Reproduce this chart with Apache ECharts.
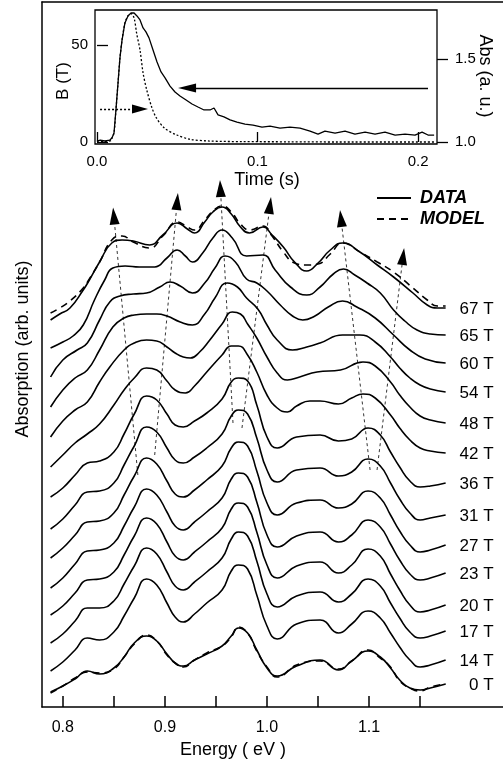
<!DOCTYPE html>
<html>
<head>
<meta charset="utf-8">
<script src="https://cdn.jsdelivr.net/npm/echarts@6/dist/echarts.min.js"></script>
<style>
  html, body { margin: 0; padding: 0; background: #fff; }
  #chart { width: 503px; height: 765px; }
</style>
</head>
<body>
<div id="chart"></div>
<script>
  // ---- main panel: absorption spectra, offset per field ----
  // energy grid (eV) used by 0 T .. 36 T
  var energyLow = [0.788, 0.800, 0.812, 0.824, 0.836, 0.850, 0.860, 0.870, 0.882, 0.892, 0.902, 0.910, 0.918, 0.929, 0.941, 0.956, 0.965, 0.972, 0.981, 0.990, 1.000, 1.010, 1.029, 1.052, 1.070, 1.083, 1.099, 1.111, 1.121, 1.130, 1.140, 1.150, 1.160, 1.175];

  var abs0T    = [15, 21, 28, 36, 33, 39, 50, 64, 71, 66, 53, 44, 41, 47, 53, 61, 71, 79, 74, 57, 39, 31, 41, 47, 37, 46, 56, 50, 39, 27, 19, 17, 19, 23];
  var model0T  = [14, 21, 29, 35, 34, 38, 50, 63, 72, 66, 52, 44, 40, 47, 54, 61, 70, 80, 74, 56, 40, 30, 42, 46, 38, 46, 57, 49, 40, 26, 19, 16, 20, 23];
  var abs14T   = [36, 45, 57, 69, 67, 75, 91, 109, 128, 122, 104, 90, 85, 93, 104, 117, 136, 142, 138, 112, 81, 68, 83, 87, 74, 83, 96, 89, 74, 60, 47, 40, 42, 47];
  var abs17T   = [64, 73, 86, 99, 99, 106, 123, 141, 159, 153, 135, 121, 117, 125, 135, 149, 168, 175, 171, 146, 113, 100, 111, 115, 105, 113, 128, 121, 104, 89, 75, 69, 71, 76];
  var abs20T   = [92, 101, 114, 127, 128, 135, 152, 171, 189, 183, 165, 151, 147, 155, 165, 179, 198, 204, 200, 175, 142, 129, 141, 145, 134, 142, 158, 151, 133, 117, 102, 95, 97, 102];
  var abs23T   = [119, 129, 143, 156, 157, 164, 181, 200, 218, 212, 195, 181, 177, 185, 195, 209, 228, 234, 230, 205, 172, 160, 171, 175, 165, 172, 187, 180, 163, 147, 133, 127, 129, 134];
  var abs27T   = [149, 159, 172, 185, 186, 194, 212, 231, 249, 243, 226, 213, 210, 217, 227, 241, 259, 265, 261, 236, 204, 192, 204, 207, 199, 203, 216, 209, 192, 176, 162, 155, 157, 162];
  var abs31T   = [178, 188, 202, 215, 216, 224, 242, 261, 280, 275, 259, 247, 244, 250, 259, 273, 291, 297, 293, 269, 237, 225, 237, 239, 231, 235, 248, 241, 224, 208, 194, 187, 189, 192];
  var abs36T   = [210, 219, 232, 244, 246, 255, 273, 293, 311, 307, 293, 282, 280, 286, 294, 308, 325, 329, 326, 302, 270, 259, 270, 272, 266, 268, 279, 272, 255, 240, 226, 220, 221, 224];

  var energy42 = [0.788, 0.800, 0.812, 0.824, 0.836, 0.850, 0.860, 0.870, 0.882, 0.892, 0.902, 0.910, 0.920, 0.929, 0.941, 0.956, 0.965, 0.972, 0.981, 0.990, 1.000, 1.010, 1.020, 1.029, 1.042, 1.052, 1.070, 1.083, 1.094, 1.106, 1.121, 1.130, 1.140, 1.150, 1.160, 1.175];
  var abs42T   = [240, 252, 264, 273, 283, 302, 317, 329, 339, 337, 326, 317, 314, 321, 335, 352, 361, 361, 352, 335, 312, 299, 295, 301, 306, 306, 303, 309, 313, 309, 292, 279, 267, 259, 256, 254];

  var energy48 = [0.788, 0.800, 0.812, 0.824, 0.836, 0.846, 0.860, 0.870, 0.882, 0.892, 0.902, 0.910, 0.918, 0.925, 0.934, 0.944, 0.956, 0.966, 0.974, 0.981, 0.990, 1.000, 1.010, 1.020, 1.032, 1.049, 1.072, 1.094, 1.106, 1.121, 1.130, 1.140, 1.150, 1.160, 1.175];
  var abs48T   = [270, 286, 297, 305, 325, 340, 357, 364, 367, 366, 360, 354, 350, 349, 355, 367, 383, 395, 393, 383, 369, 350, 334, 327, 330, 335, 337, 345, 341, 325, 312, 300, 291, 287, 284];

  var energy54 = [0.788, 0.800, 0.812, 0.824, 0.836, 0.849, 0.860, 0.870, 0.882, 0.892, 0.902, 0.915, 0.927, 0.939, 0.949, 0.961, 0.971, 0.980, 0.991, 1.000, 1.010, 1.025, 1.039, 1.052, 1.074, 1.091, 1.106, 1.121, 1.130, 1.140, 1.150, 1.160, 1.175];
  var abs54T   = [300, 317, 329, 337, 357, 380, 389, 392, 393, 393, 391, 385, 382, 393, 409, 424, 420, 409, 398, 382, 367, 357, 360, 364, 372, 372, 365, 350, 339, 329, 322, 318, 315];

  var energy60 = [0.788, 0.800, 0.814, 0.824, 0.836, 0.846, 0.856, 0.869, 0.882, 0.895, 0.905, 0.915, 0.927, 0.939, 0.949, 0.959, 0.969, 0.980, 0.990, 1.000, 1.013, 1.025, 1.035, 1.047, 1.060, 1.074, 1.088, 1.106, 1.124, 1.140, 1.155, 1.175];
  var abs60T   = [330, 347, 357, 364, 387, 405, 411, 413, 414, 420, 425, 421, 414, 424, 439, 451, 445, 428, 424, 416, 402, 391, 387, 391, 400, 406, 400, 389, 372, 357, 348, 344];

  var energy65 = [0.788, 0.800, 0.810, 0.820, 0.831, 0.841, 0.849, 0.861, 0.875, 0.890, 0.902, 0.912, 0.920, 0.927, 0.937, 0.947, 0.956, 0.966, 0.980, 0.996, 1.008, 1.023, 1.039, 1.052, 1.065, 1.075, 1.086, 1.098, 1.111, 1.124, 1.135, 1.147, 1.160, 1.175];
  var abs65T   = [359, 365, 371, 382, 407, 427, 439, 441, 440, 440, 449, 457, 451, 445, 454, 469, 477, 469, 451, 452, 437, 420, 412, 420, 433, 438, 432, 424, 414, 397, 386, 377, 373, 372];

  var energy67 = [0.788, 0.797, 0.807, 0.820, 0.826, 0.836, 0.848, 0.858, 0.869, 0.885, 0.898, 0.912, 0.922, 0.929, 0.939, 0.947, 0.956, 0.965, 0.974, 0.983, 0.996, 1.005, 1.016, 1.027, 1.039, 1.050, 1.062, 1.074, 1.091, 1.108, 1.124, 1.143, 1.157, 1.167, 1.175];
  var abs67T   = [387, 393, 399, 417, 427, 445, 464, 467, 466, 462, 472, 484, 478, 474, 485, 495, 500, 493, 480, 474, 480, 472, 460, 445, 436, 444, 457, 464, 455, 442, 430, 414, 402, 399, 399];
  var model67T = [394, 399, 406, 419, 428, 445, 467, 471, 465, 459, 471, 485, 480, 477, 487, 496, 501, 495, 483, 477, 481, 471, 455, 444, 442, 443, 453, 464, 455, 445, 435, 419, 407, 401, 401];

  // dashed peak-tracking guides: [start, arrow end] as [energy, absorption]
  var guides = [
    [[0.8735, 232], [0.850, 491]],
    [[0.890, 252], [0.912, 505.5]],
    [[0.9667, 284], [0.9544, 518.5]],
    [[0.9755, 279], [1.0029, 501.5]],
    [[1.101, 237], [1.0725, 488.5]],
    [[1.1078, 237], [1.1333, 450.5]]
  ];

  // ---- inset: field pulse and absorption vs time ----
  var pulseTime  = [0, 0.005, 0.009, 0.0093, 0.0106, 0.0118, 0.0131, 0.0143, 0.0156, 0.0174, 0.0193, 0.0212, 0.0231, 0.0247, 0.0268, 0.0287, 0.031, 0.034, 0.037, 0.042, 0.0497, 0.058, 0.07, 0.09, 0.12, 0.15, 0.21];
  var pulseField = [0, 0.3, 0.8, 2, 4.6, 16.5, 30.4, 43.3, 52.6, 61.3, 65, 66.2, 64, 56, 47.4, 35.6, 26.8, 18.2, 12.4, 7.2, 3.6, 1.4, 0.5, 0.2, 0.1, 0, 0];

  var absTime  = [0, 0.002, 0.005, 0.008, 0.0093, 0.0106, 0.0118, 0.0131, 0.0143, 0.0156, 0.0174, 0.0193, 0.0212, 0.0231, 0.0249, 0.0268, 0.0287, 0.0305, 0.0324, 0.0349, 0.0374, 0.0399, 0.0424, 0.0455, 0.0486, 0.0517, 0.0555, 0.0592, 0.0629, 0.0667, 0.0704, 0.0729, 0.0754, 0.0791, 0.0829, 0.0872, 0.0922, 0.0972, 0.1028, 0.1078, 0.114, 0.1202, 0.1265, 0.1327, 0.1377, 0.142, 0.1483, 0.1545, 0.1607, 0.167, 0.1732, 0.1794, 0.1857, 0.1919, 0.1981, 0.2025, 0.2062, 0.21];
  var absValue = [1.006, 1.012, 1.006, 1.012, 1.024, 1.054, 1.193, 1.355, 1.506, 1.614, 1.717, 1.759, 1.777, 1.777, 1.759, 1.735, 1.687, 1.663, 1.627, 1.554, 1.482, 1.422, 1.386, 1.337, 1.301, 1.277, 1.253, 1.229, 1.211, 1.193, 1.193, 1.205, 1.163, 1.151, 1.133, 1.12, 1.108, 1.102, 1.09, 1.096, 1.084, 1.09, 1.084, 1.066, 1.048, 1.066, 1.054, 1.066, 1.048, 1.06, 1.048, 1.06, 1.042, 1.048, 1.042, 1.06, 1.042, 1.042];

  var absArrow   = [[0.2062, 1.325], [0.0561, 1.325]];
  var fieldArrow = [[0.0019, 17], [0.0268, 17]];

  var energyTicks  = [0.8, 0.85, 0.9, 0.95, 1.0, 1.05, 1.1, 1.15];
  var energyLabels = [0.8, 0.9, 1.0, 1.1];

  var FONT = '"Liberation Sans", Arial, Helvetica, sans-serif';

  function zip(xs, ys) {
    return xs.map(function (x, i) { return [x, ys[i]]; });
  }

  var spectra = [
    { label: '0 T',  e: energyLow, v: abs0T },
    { label: '14 T', e: energyLow, v: abs14T },
    { label: '17 T', e: energyLow, v: abs17T },
    { label: '20 T', e: energyLow, v: abs20T },
    { label: '23 T', e: energyLow, v: abs23T },
    { label: '27 T', e: energyLow, v: abs27T },
    { label: '31 T', e: energyLow, v: abs31T },
    { label: '36 T', e: energyLow, v: abs36T },
    { label: '42 T', e: energy42, v: abs42T },
    { label: '48 T', e: energy48, v: abs48T },
    { label: '54 T', e: energy54, v: abs54T },
    { label: '60 T', e: energy60, v: abs60T },
    { label: '65 T', e: energy65, v: abs65T },
    { label: '67 T', e: energy67, v: abs67T }
  ];

  var series = [];

  spectra.forEach(function (s, i) {
    var item = {
      name: 'DATA',
      type: 'line',
      xAxisIndex: 0,
      yAxisIndex: 0,
      data: zip(s.e, s.v),
      smooth: 0.5,
      symbol: 'none',
      color: '#000',
      lineStyle: { color: '#000', width: 1.6 },
      endLabel: {
        show: true,
        formatter: s.label,
        color: '#000',
        fontSize: 17,
        fontFamily: FONT,
        align: 'right',
        offset: [40, 1]
      },
      z: 3
    };
    if (i === 0) {
      item.markLine = {
        silent: true,
        symbol: ['none', 'triangle'],
        symbolSize: [10, 17],
        label: { show: false },
        lineStyle: { color: '#000', width: 0.8, type: [3, 3] },
        data: guides.map(function (g) {
          return [{ coord: g[0] }, { coord: g[1] }];
        })
      };
    }
    series.push(item);
  });

  [zip(energyLow, model0T), zip(energy67, model67T)].forEach(function (d) {
    series.push({
      name: 'MODEL',
      type: 'line',
      xAxisIndex: 0,
      yAxisIndex: 0,
      data: d,
      smooth: 0.5,
      symbol: 'none',
      color: '#000',
      lineStyle: { color: '#000', width: 1.6, type: [7, 5] },
      z: 4
    });
  });

  // inset curves
  series.push({
    name: 'B',
    type: 'line',
    xAxisIndex: 2,
    yAxisIndex: 1,
    data: zip(pulseTime, pulseField),
    smooth: 0.3,
    symbol: 'none',
    lineStyle: { color: '#000', width: 1.3, type: [2, 2] },
    markLine: {
      silent: true,
      symbol: ['none', 'triangle'],
      symbolSize: [9, 16],
      label: { show: false },
      lineStyle: { color: '#000', width: 1.3, type: [2, 2] },
      data: [[{ coord: fieldArrow[0] }, { coord: fieldArrow[1] }]]
    }
  });
  series.push({
    name: 'Abs',
    type: 'line',
    xAxisIndex: 2,
    yAxisIndex: 2,
    data: zip(absTime, absValue),
    symbol: 'none',
    lineStyle: { color: '#000', width: 1.3 },
    markLine: {
      silent: true,
      symbol: ['none', 'triangle'],
      symbolSize: [9, 18],
      label: { show: false },
      lineStyle: { color: '#000', width: 1.3, type: 'solid' },
      data: [[{ coord: absArrow[0] }, { coord: absArrow[1] }]]
    }
  });

  var chart = echarts.init(document.getElementById('chart'), null, { renderer: 'canvas' });

  chart.setOption({
    animation: false,
    backgroundColor: '#fff',
    textStyle: { fontFamily: FONT, color: '#000' },
    legend: {
      data: ['DATA', 'MODEL'],
      orient: 'vertical',
      left: 376,
      top: 189,
      padding: 0,
      itemWidth: 34,
      itemHeight: 14,
      itemGap: 3,
      selectedMode: false,
      itemStyle: { opacity: 0 },
      textStyle: { fontSize: 18, lineHeight: 18, fontWeight: 'bold', fontStyle: 'italic', color: '#000', padding: [0, 0, 0, 4] }
    },
    grid: [
      { left: 42, top: 2, right: 0, bottom: 58 },
      { left: 95, top: 10, width: 342, height: 134, show: true, borderColor: '#000', borderWidth: 1.3, backgroundColor: 'transparent', z: 5 }
    ],
    xAxis: [
      {
        type: 'value', gridIndex: 0, min: 0.7796, max: 1.2312,
        axisLine: { lineStyle: { color: '#000', width: 1.5 } },
        axisTick: { inside: true, length: 11, lineStyle: { color: '#000', width: 1.5 }, customValues: energyTicks },
        axisLabel: { customValues: energyLabels, margin: 13, fontSize: 16, color: '#000',
          formatter: function (v) { return v.toFixed(1); } },
        splitLine: { show: false }
      },
      {
        type: 'value', gridIndex: 0, position: 'top', min: 0.7796, max: 1.2312,
        axisLine: { lineStyle: { color: '#000', width: 1.5 } },
        axisTick: { show: false }, axisLabel: { show: false }, splitLine: { show: false }
      },
      {
        type: 'value', gridIndex: 1, min: -0.00124, max: 0.2118,
        axisLine: { show: false },
        axisTick: { inside: true, length: 10, lineStyle: { color: '#000', width: 1.3 }, customValues: [0, 0.1, 0.2] },
        axisLabel: { customValues: [0, 0.1, 0.2], margin: 10, fontSize: 15, color: '#000',
          formatter: function (v) { return v.toFixed(1); } },
        splitLine: { show: false }
      }
    ],
    yAxis: [
      {
        type: 'value', gridIndex: 0, min: 0, max: 705,
        axisLine: { show: true, lineStyle: { color: '#000', width: 1.5 } },
        axisTick: { show: false }, axisLabel: { show: false }, splitLine: { show: false }
      },
      {
        type: 'value', gridIndex: 1, position: 'left', min: -1.03, max: 68.04,
        axisLine: { show: false },
        axisTick: { inside: true, length: 11, lineStyle: { color: '#000', width: 1.3 }, customValues: [0, 50] },
        axisLabel: { customValues: [0, 50], margin: 7, fontSize: 15, color: '#000' },
        splitLine: { show: false }
      },
      {
        type: 'value', gridIndex: 1, position: 'right', min: 0.988, max: 1.795,
        axisLine: { show: false },
        axisTick: { inside: false, length: 11, lineStyle: { color: '#000', width: 1.3 }, customValues: [1.0, 1.5] },
        axisLabel: { customValues: [1.0, 1.5], margin: 18, fontSize: 15, color: '#000',
          formatter: function (v) { return v.toFixed(1); } },
        splitLine: { show: false }
      }
    ],
    graphic: [
      { type: 'text', x: 233, y: 750, style: { text: 'Energy ( eV )', font: '18px ' + FONT, fill: '#000', align: 'center', verticalAlign: 'middle' } },
      { type: 'text', x: 23, y: 349, rotation: Math.PI / 2, style: { text: 'Absorption (arb. units)', font: '18px ' + FONT, fill: '#000', align: 'center', verticalAlign: 'middle' } },
      { type: 'text', x: 267, y: 180, style: { text: 'Time (s)', font: '18px ' + FONT, fill: '#000', align: 'center', verticalAlign: 'middle' } },
      { type: 'text', x: 63, y: 81, rotation: Math.PI / 2, style: { text: 'B (T)', font: '17px ' + FONT, fill: '#000', align: 'center', verticalAlign: 'middle' } },
      { type: 'text', x: 485, y: 76, rotation: -Math.PI / 2, style: { text: 'Abs (a. u.)', font: '18px ' + FONT, fill: '#000', align: 'center', verticalAlign: 'middle' } }
    ],
    series: series
  });
</script>
</body>
</html>
